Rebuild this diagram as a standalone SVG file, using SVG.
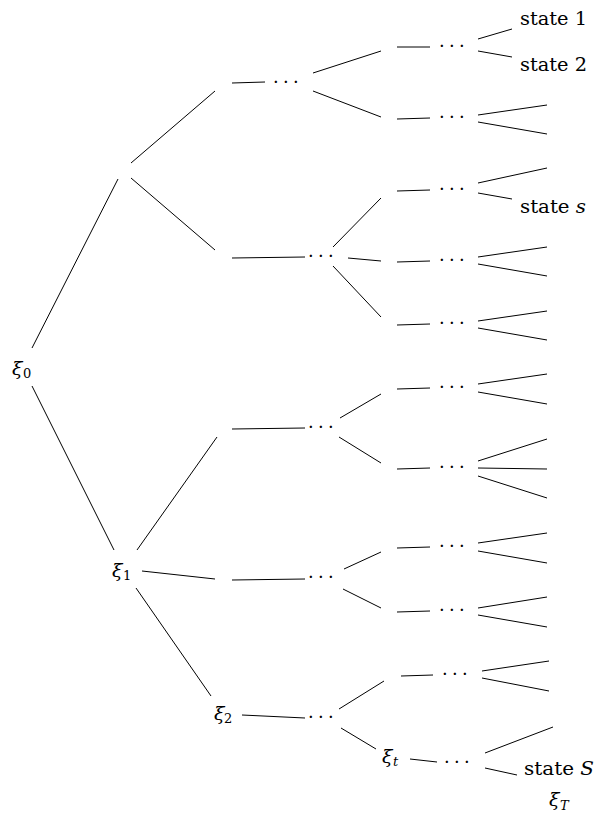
<svg xmlns="http://www.w3.org/2000/svg" width="601" height="817" viewBox="0 0 601 817">
<style>
.e{stroke:#000;stroke-width:1;fill:none}
.t{font-family:"DejaVu Serif","Liberation Serif",serif;font-size:18.5px;fill:#000}
.x{font-family:"DejaVu Serif","Liberation Serif",serif;font-size:19px;font-style:italic;fill:#000}
.s{font-family:"DejaVu Serif","Liberation Serif",serif;font-size:13px;fill:#000}
.si{font-family:"DejaVu Serif","Liberation Serif",serif;font-size:13px;font-style:italic;fill:#000}
.d{font-family:"DejaVu Serif","Liberation Serif",serif;font-size:18px;fill:#000;letter-spacing:4.3px}
</style>
<rect width="601" height="817" fill="#fff"/>
<g id="connectors" class="e">
<line x1="32" y1="348" x2="118" y2="179"/>
<line x1="32" y1="386" x2="114" y2="550"/>
<line x1="131" y1="163" x2="215" y2="91"/>
<line x1="131" y1="178" x2="215" y2="250"/>
<line x1="232" y1="83" x2="265" y2="82"/>
<line x1="232" y1="258" x2="305" y2="257"/>
<line x1="313" y1="73" x2="381" y2="51"/>
<line x1="313" y1="91" x2="381" y2="117"/>
<line x1="333" y1="247" x2="381" y2="198"/>
<line x1="348" y1="258" x2="381" y2="261"/>
<line x1="333" y1="266" x2="381" y2="317"/>
<line x1="397" y1="47" x2="430" y2="47"/>
<line x1="478" y1="39" x2="512" y2="29"/>
<line x1="478" y1="51" x2="512" y2="57"/>
<line x1="397" y1="119" x2="430" y2="118"/>
<line x1="478" y1="115" x2="547" y2="105"/>
<line x1="478" y1="122" x2="547" y2="134"/>
<line x1="397" y1="191" x2="430" y2="190"/>
<line x1="478" y1="183" x2="547" y2="168"/>
<line x1="478" y1="193" x2="512" y2="199"/>
<line x1="397" y1="262" x2="430" y2="261"/>
<line x1="478" y1="257" x2="547" y2="247"/>
<line x1="478" y1="264" x2="547" y2="276"/>
<line x1="397" y1="325" x2="430" y2="324"/>
<line x1="478" y1="321" x2="547" y2="311"/>
<line x1="478" y1="328" x2="547" y2="340"/>
<line x1="137" y1="550" x2="217" y2="437"/>
<line x1="142" y1="571" x2="215" y2="579"/>
<line x1="136" y1="588" x2="211" y2="696"/>
<line x1="232" y1="429" x2="305" y2="428"/>
<line x1="340" y1="418" x2="381" y2="394"/>
<line x1="339" y1="437" x2="381" y2="463"/>
<line x1="397" y1="389" x2="430" y2="388"/>
<line x1="478" y1="384" x2="547" y2="374"/>
<line x1="478" y1="392" x2="547" y2="404"/>
<line x1="397" y1="469" x2="430" y2="468"/>
<line x1="478" y1="461" x2="547" y2="439"/>
<line x1="478" y1="468" x2="547" y2="469"/>
<line x1="478" y1="476" x2="547" y2="498"/>
<line x1="232" y1="580" x2="305" y2="579"/>
<line x1="344" y1="569" x2="381" y2="552"/>
<line x1="343" y1="589" x2="381" y2="608"/>
<line x1="397" y1="548" x2="430" y2="547"/>
<line x1="478" y1="543" x2="547" y2="533"/>
<line x1="478" y1="551" x2="547" y2="563"/>
<line x1="397" y1="612" x2="430" y2="611"/>
<line x1="478" y1="608" x2="547" y2="597"/>
<line x1="478" y1="615" x2="547" y2="627"/>
<line x1="242" y1="715" x2="305" y2="718"/>
<line x1="339" y1="709" x2="384" y2="681"/>
<line x1="341" y1="728" x2="376" y2="749"/>
<line x1="401" y1="676" x2="433" y2="675"/>
<line x1="482" y1="671" x2="549" y2="661"/>
<line x1="482" y1="678" x2="549" y2="691"/>
<line x1="410" y1="759" x2="437" y2="762"/>
<line x1="485" y1="753" x2="553" y2="727"/>
<line x1="485" y1="768" x2="517" y2="775"/>
</g>
<g id="xi0"><text class="x" x="12" y="375">ξ</text><text class="s" x="23" y="378">0</text></g>
<g id="xi1"><text class="x" x="112" y="577">ξ</text><text class="s" x="123" y="580">1</text></g>
<g id="xi2"><text class="x" x="214" y="720">ξ</text><text class="s" x="224" y="723">2</text></g>
<g id="xit"><text class="x" x="382" y="763">ξ</text><text class="si" x="393" y="766">t</text></g>
<g id="xiT"><text class="x" x="549" y="806">ξ</text><text class="si" x="560" y="810">T</text></g>
<g id="dots-a1"><text class="d" x="273" y="88">···</text></g>
<g id="dots-a2"><text class="d" x="308" y="262">···</text></g>
<g id="dots-b1"><text class="d" x="308" y="433">···</text></g>
<g id="dots-b2"><text class="d" x="308" y="583">···</text></g>
<g id="dots-b3"><text class="d" x="308" y="723">···</text></g>
<g id="dots-c1"><text class="d" x="439" y="52">···</text></g>
<g id="dots-c2"><text class="d" x="439" y="123">···</text></g>
<g id="dots-c3"><text class="d" x="439" y="195">···</text></g>
<g id="dots-c4"><text class="d" x="439" y="266">···</text></g>
<g id="dots-c5"><text class="d" x="439" y="329">···</text></g>
<g id="dots-c6"><text class="d" x="439" y="393">···</text></g>
<g id="dots-c7"><text class="d" x="439" y="473">···</text></g>
<g id="dots-c8"><text class="d" x="439" y="552">···</text></g>
<g id="dots-c9"><text class="d" x="439" y="616">···</text></g>
<g id="dots-c10"><text class="d" x="442" y="680">···</text></g>
<g id="dots-c11"><text class="d" x="444" y="768">···</text></g>
<g id="state1"><text class="t" x="520" y="25" textLength="67" lengthAdjust="spacingAndGlyphs">state 1</text></g>
<g id="state2"><text class="t" x="520" y="71" textLength="67" lengthAdjust="spacingAndGlyphs">state 2</text></g>
<g id="states"><text class="t" x="520" y="213" textLength="66" lengthAdjust="spacingAndGlyphs">state <tspan font-style="italic">s</tspan></text></g>
<g id="stateS"><text class="t" x="524" y="775" textLength="70" lengthAdjust="spacingAndGlyphs">state <tspan font-style="italic">S</tspan></text></g>
</svg>
